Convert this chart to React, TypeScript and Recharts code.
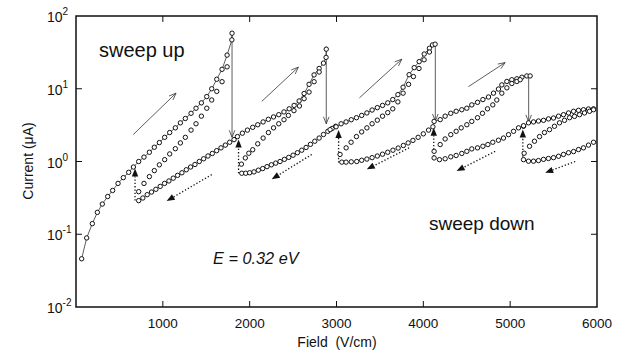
import { ComposedChart, Line, XAxis, YAxis, ReferenceLine, ReferenceArea } from "recharts";

const fieldTicks = [1000, 2000, 3000, 4000, 5000, 6000];
const currentTicks = [0.01, 0.1, 1, 10, 100];
const currentTickExps = ["-2", "-1", "0", "1", "2"];

// first sweep up from zero field, joined by a line (field V/cm, current uA)
const up1 = [
  [65, 0.046], [123, 0.089], [188, 0.14], [246, 0.2], [303, 0.26], [365, 0.33], [422, 0.4],
  [484, 0.5], [545, 0.6], [607, 0.71], [661, 0.84], [722, 1.0], [783, 1.15], [845, 1.34],
  [902, 1.57], [960, 1.82], [1021, 2.15], [1079, 2.5], [1144, 2.9], [1202, 3.4], [1259, 3.9],
  [1325, 4.6], [1382, 5.4], [1444, 6.4], [1506, 7.8], [1563, 10], [1621, 13.5], [1682, 18.5],
  [1740, 29], [1795, 47], [1797, 58],
];
const mid1 = [
  [722, 0.385], [783, 0.5], [845, 0.62], [902, 0.75], [960, 0.9], [1021, 1.06], [1079, 1.27],
  [1144, 1.5], [1202, 1.8], [1259, 2.15], [1325, 2.7], [1382, 3.3], [1444, 4.2], [1506, 5.4],
  [1563, 7.0], [1621, 9.2], [1682, 12.5], [1740, 20],
];
const down1 = [
  [722, 0.29], [770, 0.315], [820, 0.35], [870, 0.38], [920, 0.415], [970, 0.455], [1020, 0.5],
  [1070, 0.54], [1120, 0.59], [1170, 0.645], [1220, 0.7], [1270, 0.77], [1320, 0.84], [1370, 0.91],
  [1420, 1.0], [1470, 1.09], [1520, 1.19], [1570, 1.29], [1620, 1.41], [1670, 1.54], [1720, 1.68],
  [1770, 1.84], [1820, 2.0],
];

const up2 = [
  [1859, 2.2], [1916, 2.45], [1974, 2.7], [2035, 2.95], [2093, 3.2], [2155, 3.5], [2215, 3.8],
  [2275, 4.1], [2335, 4.4], [2395, 4.8], [2455, 5.3], [2512, 5.9], [2570, 6.8], [2627, 8.6],
  [2684, 11.5], [2742, 15.5], [2800, 19], [2850, 22.5], [2880, 27], [2882, 35],
];
const mid2 = [
  [1905, 0.92], [1950, 1.12], [1990, 1.3], [2035, 1.45], [2093, 1.75], [2155, 2.1], [2216, 2.5],
  [2275, 2.9], [2335, 3.3], [2395, 3.75], [2446, 4.3], [2510, 5.0], [2573, 5.8], [2627, 7.3],
  [2684, 9.0], [2742, 12.5], [2800, 17],
];
const down2 = [
  [1909, 0.69], [1955, 0.69], [2000, 0.7], [2050, 0.72], [2100, 0.76], [2150, 0.8], [2200, 0.85],
  [2250, 0.9], [2300, 0.95], [2350, 1.0], [2400, 1.07], [2450, 1.14], [2500, 1.22], [2550, 1.32],
  [2600, 1.43], [2650, 1.56], [2700, 1.72], [2750, 1.9], [2800, 2.1], [2850, 2.35], [2900, 2.6],
  [2950, 2.85], [2990, 3.05],
];

const up3 = [
  [2926, 2.74], [2995, 3.0], [3053, 3.3], [3110, 3.5], [3170, 3.75], [3230, 4.0], [3290, 4.3],
  [3350, 4.65], [3410, 5.1], [3470, 5.5], [3530, 5.9], [3590, 6.4], [3648, 7.1], [3707, 8.3],
  [3767, 10.5], [3836, 15.6], [3895, 19.5], [3952, 23.6], [4010, 30], [4070, 36], [4105, 40],
  [4136, 41],
];
const mid3 = [
  [3041, 1.25], [3111, 1.54], [3168, 1.84], [3230, 2.2], [3290, 2.55], [3350, 2.9], [3410, 3.3],
  [3470, 3.7], [3530, 4.2], [3590, 4.7], [3648, 5.3], [3707, 6.6], [3767, 8.7], [3830, 11.5],
  [3886, 14.7], [3950, 19], [4009, 25], [4070, 32],
];
const down3 = [
  [3061, 0.98], [3110, 0.98], [3170, 0.99], [3233, 1.0], [3290, 1.04], [3350, 1.08], [3410, 1.13],
  [3470, 1.19], [3530, 1.26], [3590, 1.34], [3650, 1.43], [3710, 1.53], [3770, 1.66], [3825, 1.8],
  [3880, 1.95], [3940, 2.15], [4000, 2.4], [4060, 2.7], [4110, 3.0],
];

const up4 = [
  [4124, 3.56], [4194, 3.76], [4251, 4.2], [4316, 4.6], [4378, 4.9], [4443, 5.15], [4501, 5.4],
  [4558, 6.0], [4624, 6.5], [4686, 7.1], [4750, 7.7], [4808, 8.7], [4865, 9.9], [4904, 11.3],
  [4962, 12.6], [5019, 13.3], [5077, 13.7], [5135, 14.4], [5192, 15], [5230, 15],
];
const mid4 = [
  [4124, 1.38], [4194, 1.71], [4251, 2.04], [4316, 2.34], [4378, 2.6], [4436, 2.9], [4501, 3.2],
  [4558, 3.56], [4624, 4.0], [4681, 4.6], [4739, 5.3], [4800, 6.0], [4846, 7.0], [4904, 8.7],
  [4962, 10.3], [5019, 11.8], [5077, 12.6], [5115, 13.3],
];
const down4 = [
  [4124, 1.12], [4186, 1.06], [4251, 1.09], [4316, 1.16], [4378, 1.21], [4443, 1.29], [4501, 1.38],
  [4558, 1.49], [4624, 1.54], [4686, 1.62], [4743, 1.71], [4800, 1.84], [4865, 1.96], [4923, 2.1],
  [4981, 2.34], [5039, 2.6], [5096, 2.9], [5154, 3.05],
];

const up5 = [
  [5154, 3.1], [5211, 3.4], [5269, 3.5], [5326, 3.6], [5384, 3.68], [5441, 3.85], [5499, 3.96],
  [5557, 4.2], [5614, 4.4], [5672, 4.65], [5730, 4.9], [5787, 5.05], [5844, 5.15], [5902, 5.27],
  [5960, 5.3],
];
const mid5 = [
  [5161, 1.3], [5223, 1.62], [5280, 1.9], [5338, 2.2], [5395, 2.5], [5453, 2.74], [5510, 3.05],
  [5568, 3.4], [5626, 3.68], [5684, 4.0], [5741, 4.17], [5799, 4.4], [5856, 4.65], [5914, 4.9],
  [5960, 5.15],
];
const down5 = [
  [5154, 1.06], [5211, 1.01], [5269, 1.01], [5326, 1.03], [5384, 1.07], [5441, 1.1], [5499, 1.13],
  [5557, 1.18], [5614, 1.25], [5672, 1.32], [5730, 1.37], [5787, 1.46], [5844, 1.54], [5902, 1.68],
  [5960, 1.84],
];

// arrows: [fromField, fromCurrent, toField, toCurrent]
const dropArrows = [
  [1797, 58, 1797, 2.15], [2882, 38, 2882, 3.3], [4138, 42, 4138, 3.6], [5213, 15, 5213, 3.5],
];
const jumpArrows = [
  [680, 0.29, 680, 0.8], [1872, 0.69, 1872, 2.0], [3024, 0.97, 3024, 2.7],
  [4120, 1.18, 4120, 2.9], [5146, 1.05, 5146, 2.75],
];
const sweepUpArrows = [
  [660, 2.35, 1152, 8.7], [2139, 6.7, 2561, 19.8], [3264, 7.5, 3752, 25.5], [4520, 10.7, 4942, 22.9],
];
const sweepDownArrows = [
  [1563, 0.66, 1044, 0.286], [2715, 1.25, 2254, 0.57], [3836, 1.54, 3349, 0.78],
  [4827, 1.38, 4383, 0.74], [5749, 1.0, 5403, 0.7],
];

const toPts = (arr: number[][]) => arr.map(([x, y]) => ({ x, y }));

const series = [
  { id: "up1", pts: up1, line: true }, { id: "mid1", pts: mid1 }, { id: "down1", pts: down1 },
  { id: "up2", pts: up2, line: true }, { id: "mid2", pts: mid2 }, { id: "down2", pts: down2 },
  { id: "up3", pts: up3, line: true }, { id: "mid3", pts: mid3 }, { id: "down3", pts: down3 },
  { id: "up4", pts: up4, line: true }, { id: "mid4", pts: mid4 }, { id: "down4", pts: down4 },
  { id: "up5", pts: up5, line: true }, { id: "mid5", pts: mid5 }, { id: "down5", pts: down5 },
];

const FONT = "'Liberation Sans', Arial, Helvetica, sans-serif";
const INK = "#111";

function arrowShape(dotted: boolean) {
  return (props: any) => {
    const { x1, y1, x2, y2 } = props;
    const dx = x2 - x1;
    const dy = y2 - y1;
    const len = Math.hypot(dx, dy) || 1;
    const ux = dx / len, uy = dy / len;
    const px = -uy, py = ux;
    if (!dotted) {
      const h = 7, w = 2.8;
      return (
        <g>
          <line x1={x1} y1={y1} x2={x2} y2={y2} stroke="#333" strokeWidth={0.8} />
          <polyline
            points={`${x2 - ux * h + px * w},${y2 - uy * h + py * w} ${x2},${y2} ${x2 - ux * h - px * w},${y2 - uy * h - py * w}`}
            fill="none" stroke="#333" strokeWidth={0.8}
          />
        </g>
      );
    }
    const h = 8, w = 3.2;
    const bx = x2 - ux * h, by = y2 - uy * h;
    return (
      <g>
        <line x1={x1} y1={y1} x2={bx} y2={by} stroke={INK} strokeWidth={1.3} strokeDasharray="1.3 2" />
        <polygon points={`${bx + px * w},${by + py * w} ${x2},${y2} ${bx - px * w},${by - py * w}`} fill={INK} />
      </g>
    );
  };
}

// inward tick marks on both ends of a full-span reference line
const tickMarks = (vertical: boolean) => (props: any) => {
  const { x1, y1, x2, y2 } = props;
  const L = 6;
  if (vertical) {
    const top = Math.min(y1, y2), bot = Math.max(y1, y2);
    return (
      <g stroke={INK} strokeWidth={1}>
        <line x1={x1} x2={x1} y1={top} y2={top + L} />
        <line x1={x1} x2={x1} y1={bot} y2={bot - L} />
      </g>
    );
  }
  const l = Math.min(x1, x2), r = Math.max(x1, x2);
  return (
    <g stroke={INK} strokeWidth={1}>
      <line x1={l} x2={l + L} y1={y1} y2={y1} />
      <line x1={r} x2={r - L} y1={y1} y2={y1} />
    </g>
  );
};

const XTick = ({ x, y, payload }: any) => (
  <text x={x} y={y + 21} textAnchor="middle" fontSize={13.5} fontFamily={FONT} fill={INK}>
    {payload.value}
  </text>
);

const YTick = ({ x, y, index }: any) => (
  <text x={x - 29} y={y + 6} fontSize={14} fontFamily={FONT} fill={INK}>
    10
    <tspan dy={-7} fontSize={10}>{currentTickExps[index]}</tspan>
  </text>
);

export default function App() {
  return (
    <div style={{ position: "absolute", left: 0, top: 0, width: 617, height: 351, background: "#fff" }}>
      <ComposedChart width={617} height={351} margin={{ top: 16, right: 20, left: 16, bottom: 14 }}>
        <XAxis
          dataKey="x" type="number" domain={[0, 6000]} ticks={fieldTicks} interval={0}
          allowDataOverflow axisLine={false} tickLine={false} tickSize={0} tickMargin={0}
          height={30} tick={<XTick />}
        />
        <YAxis
          type="number" scale="log" domain={[0.01, 100]} ticks={currentTicks} interval={0}
          allowDataOverflow axisLine={false} tickLine={false} tickSize={0} tickMargin={0}
          width={60} tick={<YTick />}
        />
        {fieldTicks.slice(0, 5).map((v) => (
          <ReferenceLine key={"xt" + v} x={v} shape={tickMarks(true)} />
        ))}
        {currentTicks.slice(1, 4).map((v) => (
          <ReferenceLine key={"yt" + v} y={v} shape={tickMarks(false)} />
        ))}
        {dropArrows.concat(sweepUpArrows).map((a, i) => (
          <ReferenceLine
            key={"sa" + i}
            segment={[{ x: a[0], y: a[1] }, { x: a[2], y: a[3] }]}
            shape={arrowShape(false)}
          />
        ))}
        {jumpArrows.concat(sweepDownArrows).map((a, i) => (
          <ReferenceLine
            key={"da" + i}
            segment={[{ x: a[0], y: a[1] }, { x: a[2], y: a[3] }]}
            shape={arrowShape(true)}
          />
        ))}
        {series.map((s) => (
          <Line
            key={s.id}
            data={toPts(s.pts)}
            dataKey="y"
            type="linear"
            stroke={s.line ? "#333" : "none"}
            strokeWidth={0.8}
            dot={{ r: 2.2, fill: "#fff", stroke: INK, strokeWidth: 1 }}
            activeDot={false}
            isAnimationActive={false}
          />
        ))}
        <ReferenceArea x1={0} x2={6000} y1={0.01} y2={100} fill="none" stroke={INK} strokeWidth={1.5} />
      </ComposedChart>
      <svg
        width={617} height={351}
        style={{ position: "absolute", left: 0, top: 0, pointerEvents: "none" }}
        fontFamily={FONT} fill={INK}
      >
        <text x={99} y={57} fontSize={20}>sweep up</text>
        <text x={429} y={230} fontSize={19}>sweep down</text>
        <text x={213} y={263.5} fontSize={16.3} fontStyle="italic">E = 0.32 eV</text>
        <text x={337} y={347} fontSize={14} textAnchor="middle" style={{ whiteSpace: "pre" }}>Field  (V/cm)</text>
        <text x={33} y={161} fontSize={14} textAnchor="middle" transform="rotate(-90 33 161)">Current (μA)</text>
      </svg>
    </div>
  );
}
